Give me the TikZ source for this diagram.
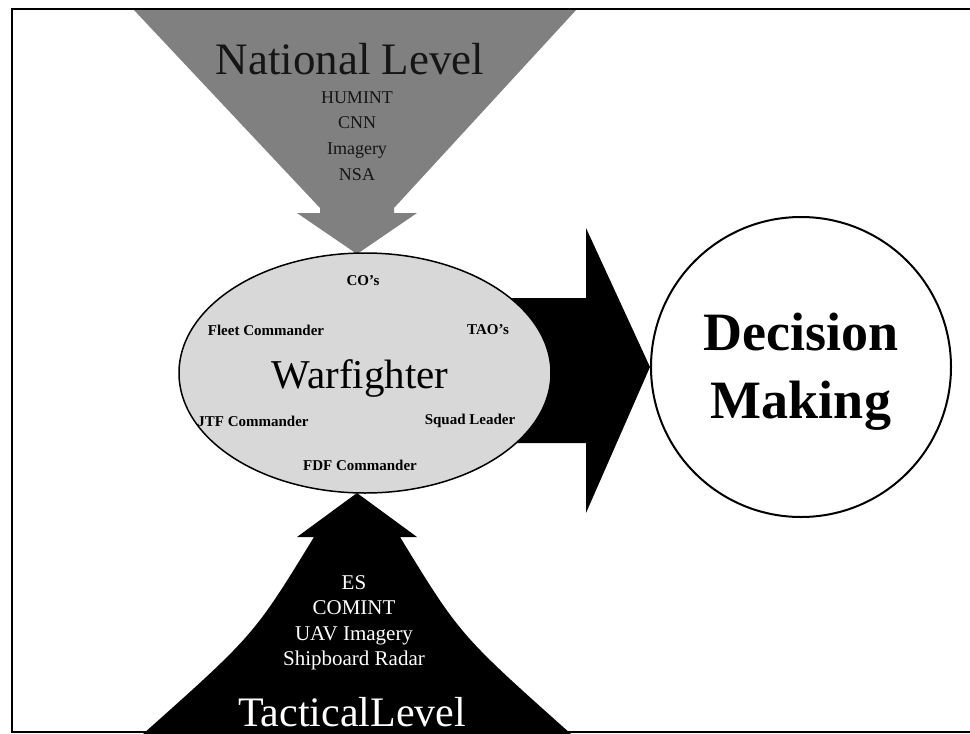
\documentclass[tikz,border=0pt]{standalone}
\usepackage{fontspec}
\setmainfont{Liberation Serif}
\usepackage{tikz}
\usetikzlibrary{shapes.geometric, positioning, calc, backgrounds}
\definecolor{natgray}{HTML}{808080}
\definecolor{warfill}{HTML}{D8D8D8}
\definecolor{natink}{HTML}{151515}

\begin{document}
\begin{tikzpicture}[x=1pt, y=-1pt,
    level/.style={font=\fontsize{45}{45}\selectfont, inner sep=0pt, anchor=base},
    source/.style={font=\fontsize{18}{25.7}\selectfont, align=center, inner sep=0pt},
    role/.style={font=\fontsize{15}{15}\selectfont\bfseries, inner sep=0pt},
    warbox/.style={ellipse, draw=black, line width=1.5pt, fill=warfill,
                   minimum width=372pt, minimum height=240pt, inner sep=0pt},
    decbox/.style={circle, draw=black, line width=2pt, fill=white, minimum size=300pt,
                   inner sep=0pt},
    declabel/.style={align=center, inner sep=0pt, font=\fontsize{54}{68}\selectfont\bfseries},
    blockarr/.style={fill=black, draw=none}
]
\useasboundingbox (0,0) rectangle (970,734);
\draw[line width=2pt] (990,9) -- (12,9) -- (12,732) -- (990,732);

\node[warbox] (war) at (365,373) {};
\node[decbox] (dec) at (801,367) {};
\node[declabel] (declbl) at (801,372) {Decision\\Making};
\coordinate (natTip) at (357,254);
\coordinate (tacTip) at (357,493);

\begin{scope}[on background layer]
\fill[natgray] (133,9) -- (577,9) -- (394,208) -- (394,213) -- (417,213) -- (natTip)
    -- (297,213) -- (320,213) -- (320,208) -- cycle;
\fill[blockarr] (tacTip) -- (417,537) -- (400,537) .. controls (460,635) .. (571,734)
    -- (143,734) .. controls (254,635) .. (314,537) -- (297,537) -- cycle;
\fill[blockarr] (470,298) -- (586,298) -- (586,228) -- (dec.west) -- (586,513)
    -- (586,443) -- (470,443) -- cycle;
\end{scope}

\node[level, natink] (nat) at (350,74) {National Level};
\node[source, natink] (natsrc) at (357,136) {HUMINT\\CNN\\Imagery\\NSA};

\node[level, font=\fontsize{41}{41}\selectfont] (warlbl) at (360,388) {Warfighter};
\node[role] (cos) at (363,281) {CO's};
\node[role] (fleet) at (266,330) {Fleet Commander};
\node[role] (tao) at (488,330) {TAO's};
\node[role] (jtf) at (253,421) {JTF Commander};
\node[role] (squad) at (470,421) {Squad Leader};
\node[role] (fdf) at (360,465) {FDF Commander};

\node[source, white, font=\fontsize{21}{25.5}\selectfont] (tacsrc) at (354,623)
    {ES\\COMINT\\UAV Imagery\\Shipboard Radar};
\node[level, white, font=\fontsize{42}{42}\selectfont] (tac) at (352,726) {TacticalLevel};
\end{tikzpicture}
\end{document}
